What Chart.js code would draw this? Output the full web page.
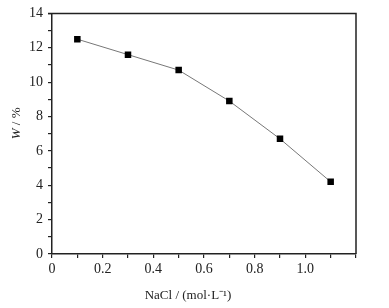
<!DOCTYPE html>
<html>
<head>
<meta charset="utf-8">
<script src="https://cdn.jsdelivr.net/npm/chart.js@4/dist/chart.umd.min.js"></script>
<style>
  body { margin: 0; background: #fff; }
  #wrap { width: 389px; height: 308px; }
</style>
</head>
<body>
<div id="wrap"><canvas id="grafico"></canvas></div>
<script>
// NaCl concentration (mol/L) vs W (%)
const nacl = [0.1, 0.3, 0.5, 0.7, 0.9, 1.1];
const wPct = [12.5, 11.6, 10.7, 8.9, 6.7, 4.2];
const tituloX = "NaCl / (mol\u00b7L\u207b\u00b9)";
const tituloY = ["W", " / %"];

const fonte = '"Liberation Serif", "Times New Roman", serif';

// frame on top/right + axis titles
const molduraPlugin = {
  id: "moldura",
  afterDraw(chart) {
    const { ctx, chartArea: a } = chart;
    ctx.save();
    ctx.strokeStyle = "#222";
    ctx.lineWidth = 1.5;
    ctx.beginPath();
    ctx.moveTo(a.left - 4, a.top);
    ctx.lineTo(a.right, a.top);
    ctx.lineTo(a.right, a.bottom);
    ctx.stroke();

    ctx.fillStyle = "#222";
    ctx.font = "13px " + fonte;
    ctx.textAlign = "center";
    ctx.textBaseline = "middle";
    ctx.fillText(tituloX, a.left + 136, a.bottom + 42);

    // y title, rotated, italic W
    ctx.translate(17, a.top + 110);
    ctx.rotate(-Math.PI / 2);
    ctx.textAlign = "left";
    ctx.font = "italic 13px " + fonte;
    const w1 = ctx.measureText(tituloY[0]).width;
    ctx.font = "13px " + fonte;
    const w2 = ctx.measureText(tituloY[1]).width;
    let x0 = -(w1 + w2) / 2;
    ctx.font = "italic 13px " + fonte;
    ctx.fillText(tituloY[0], x0, 0);
    ctx.font = "13px " + fonte;
    ctx.fillText(tituloY[1], x0 + w1, 0);
    ctx.restore();
  }
};

const ctx = document.getElementById("grafico").getContext("2d");
let myChart = new Chart(ctx, {
  type: "line",
  data: {
    datasets: [
      {
        label: "W",
        data: nacl.map((x, i) => ({ x: x, y: wPct[i] })),
        borderColor: "#777",
        borderWidth: 1,
        pointStyle: "rect",
        pointRadius: 4.6,
        pointBackgroundColor: "#000",
        pointBorderColor: "#000",
        pointBorderWidth: 0,
        tension: 0,
      },
    ],
  },
  options: {
    animation: false,
    responsive: true,
    maintainAspectRatio: false,
    layout: { padding: { left: 0, right: 33, top: 7, bottom: 0 } },
    plugins: { legend: { display: false }, tooltip: { enabled: false } },
    scales: {
      x: {
        type: "linear",
        min: 0,
        max: 1.2,
        afterFit: (s) => { s.height = 54; },
        border: { display: true, color: "#222", width: 1.5 },
        grid: { drawOnChartArea: false, drawTicks: true, tickLength: 4, color: "#222", lineWidth: 1.2 },
        ticks: {
          stepSize: 0.1,
          autoSkip: false,
          maxRotation: 0,
          padding: 3,
          color: "#222",
          font: { family: fonte, size: 14 },
          callback: (v) => {
            const k = Math.round(v * 10);
            if (k % 2 !== 0 || k > 10) return "";
            return k === 0 ? "0" : (k / 10).toFixed(1);
          },
        },
      },
      y: {
        min: 0,
        max: 14,
        afterFit: (s) => { s.width = 52; },
        border: { display: true, color: "#222", width: 1.5 },
        grid: { drawOnChartArea: false, drawTicks: true, tickLength: 4, color: "#222", lineWidth: 1.2 },
        ticks: {
          stepSize: 1,
          autoSkip: false,
          padding: 5,
          color: "#222",
          font: { family: fonte, size: 14 },
          callback: (v) => (v % 2 === 0 ? v : ""),
        },
      },
    },
  },
  plugins: [molduraPlugin],
});
</script>
</body>
</html>
